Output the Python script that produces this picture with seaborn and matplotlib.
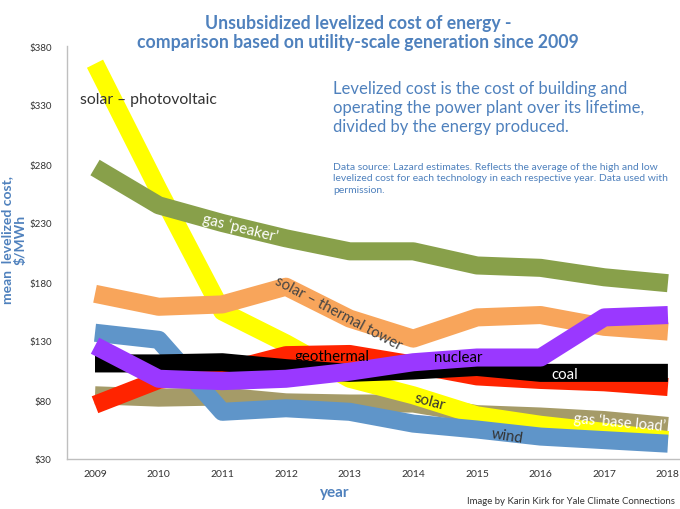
import numpy as np
import pandas as pd
import matplotlib
matplotlib.use("Agg")
import matplotlib.pyplot as plt
import seaborn as sns

# values ($/MWh, mean of high and low estimate)
years = [2009, 2010, 2011, 2012, 2013, 2014, 2015, 2016, 2017, 2018]
gas_base_load = [84, 82, 83, 78, 77, 77, 68, 66, 63, 58]
wind = [137, 131, 70, 73, 70, 60, 55, 49, 46, 43]
gas_peaker = [277, 245, 230, 217, 206, 206, 194, 192, 184, 179]
solar_thermal = [170, 159, 161, 176, 149, 132, 150, 152, 142, 138]
solar_pv = [365, 258, 155, 128, 98, 84, 67, 59, 53, 46]
geothermal = [76, 97, 104, 118, 119, 110, 100, 97, 95, 91]
coal = [111, 111, 112, 107, 103, 105, 108, 103, 103, 103]
nuclear = [126, 98, 96, 98, 104, 112, 116, 116, 150, 152]

y_ticks = [30, 80, 130, 180, 230, 280, 330, 380]

# drawing order bottom -> top, with colours
series = [
    ("gas base load", gas_base_load, "#A59B68"),
    ("solar pv", solar_pv, "#FFFF00"),
    ("wind", wind, "#5F95C9"),
    ("gas peaker", gas_peaker, "#88A04A"),
    ("solar thermal", solar_thermal, "#F8A55B"),
    ("geothermal", geothermal, "#FF2400"),
    ("coal", coal, "#000000"),
    ("nuclear", nuclear, "#9A38FF"),
]

blue = "#4F81BD"
W, H = 680, 510

sns.set_style("white")
plt.rcParams['font.family'] = ['Lato', 'DejaVu Sans']

fig = plt.figure(figsize=(6.8, 5.1), dpi=100)
ax = fig.add_axes([67 / W, 1 - 460 / H, 1 - 67 / W, (460 - 47) / H])

for i, (name, vals, col) in enumerate(series):
    df = pd.DataFrame({"year": years, "cost": vals})
    sns.lineplot(data=df, x="year", y="cost", color=col, linewidth=13,
                 solid_capstyle="butt", solid_joinstyle="round",
                 ax=ax, zorder=2 + i)

ax.set_xlim(2008.56, 2018.19)
ax.set_ylim(30, 380)
ax.set_yticks(y_ticks)
ax.set_yticklabels([f"${v}" for v in y_ticks], fontsize=7, color="#333333")
ax.set_xticks(years)
ax.set_xticklabels([str(y) for y in years], fontsize=7.5, color="#333333")
ax.tick_params(axis="x", length=0, pad=7)
ax.tick_params(axis="y", length=0, pad=11)
ax.set_xlabel("")
ax.set_ylabel("")
for s in ["top", "right"]:
    ax.spines[s].set_visible(False)
for s in ["left", "bottom"]:
    ax.spines[s].set_color("#BFBFBF")
    ax.spines[s].set_linewidth(1)


def ftext(x, y, s, **kw):
    fig.text(x / W, 1 - y / H, s, **kw)


# titles and notes
ftext(358, 33, "Unsubsidized levelized cost of energy -\ncomparison based on utility-scale generation since 2009",
      ha="center", va="center", fontsize=12.7, fontweight="bold", color=blue, linespacing=1.2)
ftext(333, 108, "Levelized cost is the cost of building and\noperating the power plant over its lifetime,\ndivided by the energy produced.",
      ha="left", va="center", fontsize=12, color=blue, linespacing=1.25)
ftext(333, 179, "Data source: Lazard estimates. Reflects the average of the high and low\nlevelized cost for each technology in each respective year. Data used with\npermission.",
      ha="left", va="center", fontsize=7.5, color=blue, linespacing=1.4)
ftext(14, 240, "mean  levelized cost,\n$/MWh", ha="center", va="center", rotation=90,
      fontsize=10, fontweight="bold", color=blue, linespacing=1.2)
ftext(335, 493, "year", ha="center", va="center", fontsize=11, fontweight="bold", color=blue)
ftext(675, 502, "Image by Karin Kirk for Yale Climate Connections", ha="right", va="center",
      fontsize=6.9, color="#333333")

# series labels
ftext(80, 100, "solar \u2013 photovoltaic", ha="left", va="center", fontsize=11.3, color="#333333")
ftext(240, 228, "gas \u2018peaker\u2019", ha="center", va="center", fontsize=10.8, color="white",
      rotation=-14, zorder=20)
ftext(338, 314, "solar \u2013 thermal tower", ha="center", va="center", fontsize=10.8, color="#444444",
      rotation=-28, zorder=20)
ftext(332, 357, "geothermal", ha="center", va="center", fontsize=10.8, color="black", zorder=20)
ftext(458, 358, "nuclear", ha="center", va="center", fontsize=10.8, color="black", zorder=20)
ftext(565, 375, "coal", ha="center", va="center", fontsize=10.8, color="white", zorder=20)
ftext(430, 402, "solar", ha="center", va="center", fontsize=10.8, color="#333333",
      rotation=-15, zorder=20)
ftext(507, 437, "wind", ha="center", va="center", fontsize=10.8, color="#333333",
      rotation=-9, zorder=20)
ftext(620, 423, "gas \u2018base load\u2019", ha="center", va="center", fontsize=10.5, color="white",
      rotation=-5, zorder=20)

fig.savefig("out.png", dpi=100)
